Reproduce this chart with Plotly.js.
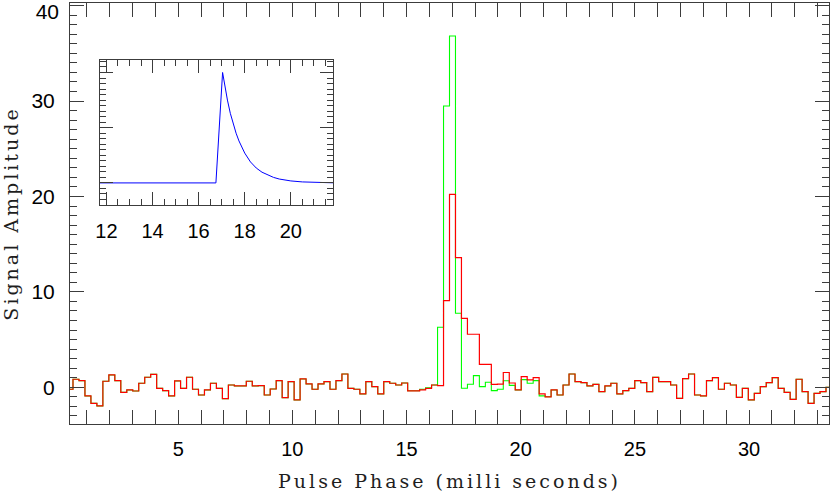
<!DOCTYPE html>
<html>
<head>
<meta charset="utf-8">
<script src="https://cdn.plot.ly/plotly-3.0.1.min.js"></script>
<style>
html, body { margin: 0; padding: 0; background: #ffffff; }
#chart { width: 830px; height: 495px; }
.xtitle, .ytitle { letter-spacing: 3px; }
</style>
</head>
<body>
<div id="chart"></div>
<script>
// ---- data ----
// 128 phase bins across one pulse period (ms)
const periodMs = 33.5;
const nBins = 128;

// red series (signal amplitude per phase bin)
const redAmp = [
 -0.21, 0.84, 0.69, -0.91, -1.68, -1.96, 0.63, 1.29, 0.69, -0.53,
 -0.28, -0.39, 0.42, 1.05, 1.36, -0.11, -0.35, -0.91, 0.66, -0.11,
 1.05, -0.21, -0.81, -0.28, 0.42, -0.11, -1.19, 0.24, 0.14, 0.14,
 0.63, 0.14, 0.17, -0.81, -0.18, 0.69, -1.09, 0.59, -1.33, 0.87,
 0.35, -0.21, 0.35, 0.59, -0.21, 0.69, 1.39, -0.11, -0.21, -0.70,
 0.59, 0.07, -0.70, 0.59, 0.42, 0.24, 0.45, -0.37, -0.37, -0.27,
 -0.12, 0.24, 0.18, 9.08, 20.23, 13.59, 7.23, 5.56, 5.56, 2.41,
 2.41, 0.31, 0.33, 1.55, 0.45, -0.28, 1.11, 0.77, 1.02, -0.70,
 -1.00, -0.28, -0.81, 0.24, 1.39, 0.59, 0.49, 0.14, 0.31, -0.46,
 0.14, 0.42, -0.70, -0.35, -0.11, 0.70, 0.49, -0.46, 1.04, 0.59,
 0.59, 0.24, -1.16, 0.90, 1.39, -0.81, -0.91, 0.70, 1.01, -0.21,
 0.42, 0.24, -1.05, -0.11, -1.33, -0.63, 0.07, 0.49, 1.01, -0.11,
 -0.53, -1.26, 0.84, -0.46, -1.68, -0.63, -0.46, 0.00
];

// green series
const greenAmp = [
 -0.21, 0.84, 0.69, -0.91, -1.68, -1.96, 0.63, 1.29, 0.69, -0.53,
 -0.28, -0.39, 0.42, 1.05, 1.36, -0.11, -0.35, -0.91, 0.66, -0.11,
 1.05, -0.21, -0.81, -0.28, 0.42, -0.11, -1.19, 0.24, 0.14, 0.14,
 0.63, 0.14, 0.17, -0.81, -0.18, 0.69, -1.09, 0.59, -1.33, 0.87,
 0.35, -0.21, 0.35, 0.59, -0.21, 0.69, 1.39, -0.11, -0.21, -0.70,
 0.59, 0.07, -0.70, 0.59, 0.42, 0.24, 0.45, -0.37, -0.37, -0.20,
 -0.05, 0.24, 6.29, 29.49, 36.82, 7.76, -0.11, 0.31, 1.22, 0.07,
 0.52, -0.35, -0.21, 0.68, 0.20, -0.28, 0.80, 0.42, 0.70, -0.90,
 -1.00, -0.28, -0.81, 0.24, 1.39, 0.59, 0.49, 0.14, 0.31, -0.46,
 0.14, 0.42, -0.70, -0.35, -0.11, 0.70, 0.49, -0.46, 1.04, 0.59,
 0.59, 0.24, -1.16, 0.90, 1.39, -0.81, -0.91, 0.70, 1.01, -0.21,
 0.42, 0.24, -1.05, -0.11, -1.33, -0.63, 0.07, 0.49, 1.01, -0.11,
 -0.53, -1.26, 0.84, -0.46, -1.68, -0.63, -0.46, 0.00
];

// inset: model pulse profile (blue)
const insetTime = [11.72, 16.75, 17.04, 17.125, 17.25, 17.375, 17.5, 17.625, 17.75, 17.875,
                   18.0, 18.25, 18.5, 18.75, 19.0, 19.25, 19.5, 20.0, 20.5, 21.0, 21.83];
const insetAmp  = [0, 0, 1.0, 0.89, 0.75, 0.63, 0.53, 0.45, 0.38, 0.32,
                   0.27, 0.19, 0.135, 0.097, 0.07, 0.05, 0.035, 0.018, 0.009, 0.004, 0.001];

// tick labels
const mainXTicks = [5, 10, 15, 20, 25, 30];
const mainYTicks = [0, 10, 20, 30];
const mainYTopTick = [40];
const insetXTicks = [12, 14, 16, 18, 20];

// phase of each bin centre
const binWidth = periodMs / nBins;
const phase = redAmp.map((_, i) => (i + 1) * binWidth);

// ---- styling ----
const axisColor = '#3c3c3c';
const tickFont = { family: 'Liberation Sans, Arial, sans-serif', size: 20, color: '#000000' };
const yTickFont = { family: 'Liberation Sans, Arial, sans-serif', size: 21, color: '#000000' };
const titleFont = { family: 'DejaVu Serif, serif', size: 19, color: '#1e1e1e' };
const yRange = [-3.85, 40.28];

const traces = [
  { x: phase, y: greenAmp, type: 'scatter', mode: 'lines', xaxis: 'x', yaxis: 'y',
    line: { shape: 'hvh', color: '#00ff00', width: 1.1 }, hoverinfo: 'skip' },
  { x: phase, y: redAmp, type: 'scatter', mode: 'lines', xaxis: 'x', yaxis: 'y',
    line: { shape: 'hvh', color: '#ff0000', width: 1.2 }, hoverinfo: 'skip' },
  { x: insetTime, y: insetAmp, type: 'scatter', mode: 'lines', xaxis: 'x2', yaxis: 'y2',
    line: { color: '#0000ff', width: 1 }, hoverinfo: 'skip' }
];

const baseAxis = {
  showline: true, linecolor: axisColor, linewidth: 1, mirror: 'allticks',
  ticks: 'inside', tickwidth: 1, tickcolor: axisColor,
  showgrid: false, zeroline: false, tickfont: tickFont,
  ticklabeloverflow: 'allow'
};

const layout = {
  width: 830, height: 495,
  margin: { l: 70, r: 1, t: 3, b: 71, pad: 0 },
  paper_bgcolor: '#ffffff', plot_bgcolor: '#ffffff',
  showlegend: false,
  xaxis: Object.assign({}, baseAxis, {
    domain: [0, 1], anchor: 'y', range: [phase[0], phase[phase.length - 1]],
    tickmode: 'array', tickvals: mainXTicks, ticktext: mainXTicks.map(String),
    ticklen: 14,
    minor: { dtick: 1, tick0: 0, ticklen: 7, tickwidth: 1, tickcolor: axisColor, ticks: 'inside', showgrid: false },
    ticklabelstandoff: 7,
    title: { text: 'Pulse Phase (milli seconds)', font: titleFont, standoff: 15 }
  }),
  yaxis: Object.assign({}, baseAxis, {
    domain: [0, 1], anchor: 'x', range: yRange,
    tickmode: 'array', tickvals: mainYTicks.concat(mainYTopTick),
    ticktext: mainYTicks.map(String).concat(['']),
    ticklen: 14, tickfont: yTickFont,
    minor: { dtick: 1, tick0: 0, ticklen: 7, tickwidth: 1, tickcolor: axisColor, ticks: 'inside', showgrid: false },
    ticklabelstandoff: 10,
    title: { text: 'Signal Amplitude', font: titleFont, standoff: 17 }
  }),
  // label for the top value, nudged down so it stays inside the page
  yaxis3: {
    overlaying: 'y', anchor: 'x', side: 'left', range: yRange,
    tickmode: 'array', tickvals: mainYTopTick, ticktext: mainYTopTick.map(String),
    ticks: '', showline: false, showgrid: false, zeroline: false,
    tickfont: yTickFont, ticklabelstandoff: 10, ticklabelshift: 6,
    ticklabeloverflow: 'allow'
  },
  xaxis2: Object.assign({}, baseAxis, {
    domain: [0.0395, 0.3465], anchor: 'y2', range: [11.72, 21.83],
    tickmode: 'array', tickvals: insetXTicks, ticktext: insetXTicks.map(String),
    ticklen: 13,
    minor: { dtick: 0.5, tick0: 0, ticklen: 6, tickwidth: 1, tickcolor: axisColor, ticks: 'inside', showgrid: false },
    ticklabelstandoff: 8
  }),
  yaxis2: Object.assign({}, baseAxis, {
    domain: [0.5202, 0.8646], anchor: 'x2', range: [-0.2, 1.113],
    dtick: 0.5, tick0: 0, ticklen: 13, showticklabels: false,
    minor: { dtick: 0.05, tick0: 0, ticklen: 6, tickwidth: 1, tickcolor: axisColor, ticks: 'inside', showgrid: false }
  })
};

// an invisible trace so the extra label axis is drawn
traces.push({ x: [phase[0]], y: [0], type: 'scatter', mode: 'lines', xaxis: 'x', yaxis: 'y3',
  line: { width: 0 }, hoverinfo: 'skip', showlegend: false });

Plotly.newPlot('chart', traces, layout, { staticPlot: true, displayModeBar: false });
</script>
</body>
</html>
